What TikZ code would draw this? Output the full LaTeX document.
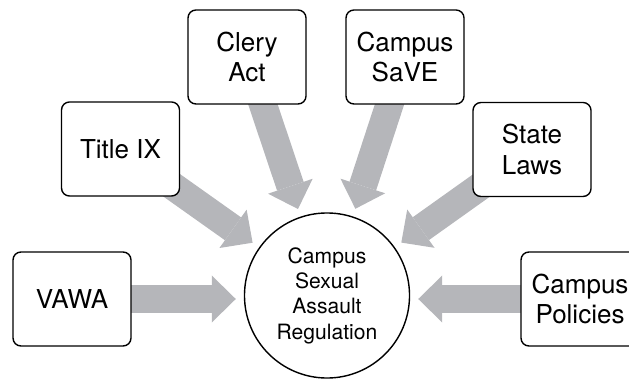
\documentclass[tikz,border=0pt]{standalone}
\usepackage{fontspec}
\setmainfont{TeX Gyre Heros}
\usetikzlibrary{arrows.meta, backgrounds}
\definecolor{flowgrey}{RGB}{181, 182, 186}

\begin{document}
\begin{tikzpicture}[
  x=0.025cm, y=-0.025cm,
  law/.style={draw=black, fill=white, line width=1pt, rounded corners=0.2cm, minimum width=2.95cm, minimum height=2.35cm, align=center, inner sep=2pt, font=\fontsize{18.5}{22}\selectfont},
  hubnode/.style={circle, draw=black, fill=white, line width=1pt, minimum size=4.125cm, align=center, inner sep=0pt, font=\fontsize{15}{18}\selectfont},
  feed/.style={draw=flowgrey, line width=19.9pt, shorten >=0.2cm, -{Triangle[width=1.175cm, length=0.6cm, line width=0pt]}}
]
\useasboundingbox (0,0) rectangle (629,379);

\node[hubnode] (hub) at (327,295.5) {Campus\\Sexual\\Assault\\Regulation};
\node[law] (vawa) at (72,299) {VAWA};
\node[law] (title) at (120.5,149) {Title IX};
\node[law] (clery) at (247,57) {Clery\\Act};
\node[law] (save) at (405,57) {Campus\\SaVE};
\node[law] (state) at (532,149.5) {State\\Laws};
\node[law] (policy) at (580,299) {Campus\\Policies};

\begin{scope}[on background layer]
\draw[feed] (vawa.center) -- (vawa.center -| hub.west);
\draw[feed] (title.center) -- (hub);
\draw[feed] (clery.center) -- (hub);
\draw[feed] (save.center) -- (hub);
\draw[feed] (state.center) -- (hub);
\draw[feed] (policy.center) -- (policy.center -| hub.east);
\end{scope}
\end{tikzpicture}
\end{document}
